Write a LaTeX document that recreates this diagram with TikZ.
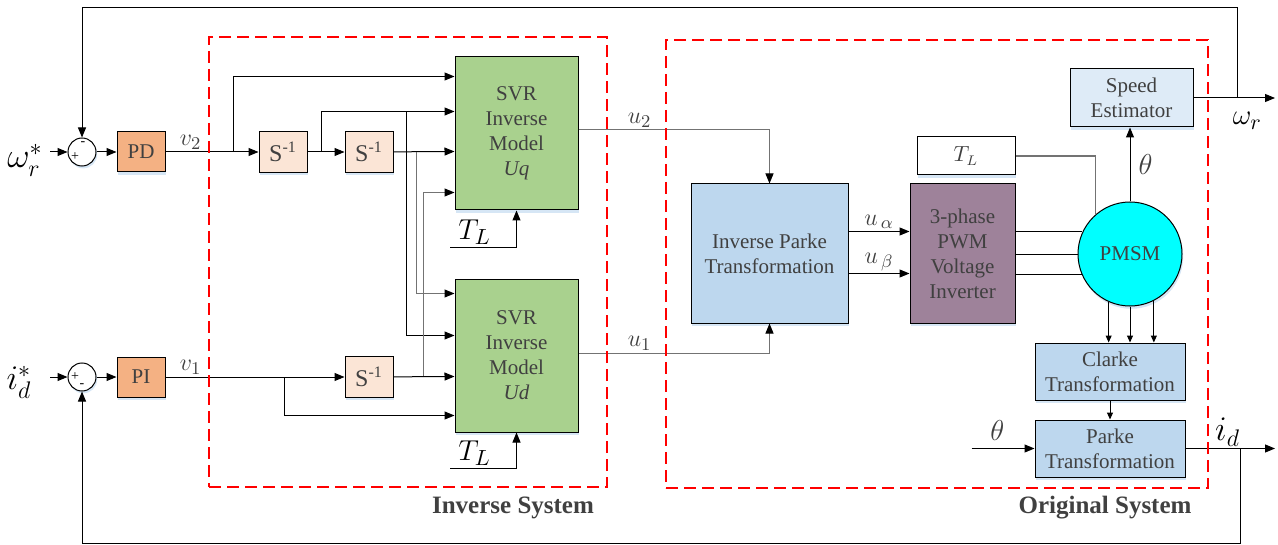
\documentclass[tikz,border=0pt]{standalone}
\usepackage{fontspec}
\setmainfont{Liberation Serif}
\usepackage{tikz}
\usetikzlibrary{arrows.meta,calc,positioning,shadows}
\definecolor{ink}{HTML}{404040}
\definecolor{pdfill}{HTML}{F4B183}
\definecolor{intfill}{HTML}{FBE5D6}
\definecolor{svrfill}{HTML}{A9D18E}
\definecolor{trfill}{HTML}{BDD7EE}
\definecolor{estfill}{HTML}{DEEBF7}
\definecolor{invfill}{HTML}{9E829A}
\definecolor{motorfill}{HTML}{00FFFF}
\definecolor{shade}{HTML}{D6E6F5}
\definecolor{dashred}{HTML}{FF0000}
\tikzset{
  blockbox/.style={draw=black, line width=0.5pt, text=ink, align=center, inner sep=1pt,
    font=\fontsize{10.5}{12.5}\selectfont,
    drop shadow={shadow xshift=0.6pt, shadow yshift=-1.4pt, fill=shade, opacity=1}},
  ctrlbox/.style={blockbox, fill=pdfill, minimum width=24pt, minimum height=20pt},
  intbox/.style={blockbox, fill=intfill, minimum width=24pt, minimum height=20.5pt,
    font=\fontsize{12}{14}\selectfont},
  svrbox/.style={blockbox, fill=svrfill, minimum width=61.5pt, minimum height=76.5pt},
  trbox/.style={blockbox, fill=trfill},
  sumnode/.style={circle, draw=black, line width=0.5pt, fill=white, minimum size=14pt,
    inner sep=0pt, drop shadow={shadow xshift=0.6pt, shadow yshift=-1.2pt, fill=shade, opacity=1}},
  signtext/.style={font=\fontsize{7}{7}\selectfont, inner sep=0pt},
  sig/.style={-{Triangle[length=5pt,width=4pt,black]}, line width=0.5pt},
  sigsmall/.style={-{Triangle[length=3.5pt,width=3pt]}, line width=0.5pt},
  wire/.style={line width=0.5pt},
  graywire/.style={line width=0.6pt, draw=black!55},
  sysbox/.style={draw=dashred, line width=1pt, dash pattern=on 6pt off 3pt,
    inner sep=0pt},
  syslab/.style={font=\bfseries\fontsize{12.5}{14}\selectfont, text=ink},
  vlab/.style={font=\fontsize{13}{15}\selectfont, text=ink, inner sep=1pt},
  biglab/.style={font=\fontsize{17}{19}\selectfont, inner sep=1pt}
}

\begin{document}
\begin{tikzpicture}[x=0.5pt, y=-0.5pt]
  \useasboundingbox (0,0) rectangle (1278,545);
  \node[biglab] (wref) at (25,160) {$\omega_r^*$};
  \node[biglab] (idref) at (19,382) {$i_d^*$};
  \node[sumnode] (sum2) at (82,152) {};
  \node[sumnode] (sum1) at (82,377) {};
  \node[signtext] at ([xshift=-3.5pt,yshift=-2.3pt]sum2.center) {+};
  \node[signtext] at ([xshift=0.5pt,yshift=4pt]sum2.center) {-};
  \node[signtext] at ([xshift=-3.5pt,yshift=0pt]sum1.center) {+};
  \node[signtext] at ([xshift=0pt,yshift=-4.5pt]sum1.center) {-};
  \node[ctrlbox] (pd) at (141,152) {PD};
  \node[ctrlbox] (pi) at (141,377) {PI};
  \node[intbox] (s1) at (283,152) {S\textsuperscript{-1}};
  \node[intbox] (s2) at (369,152) {S\textsuperscript{-1}};
  \node[intbox] (s3) at (369,377) {S\textsuperscript{-1}};
  \node[svrbox] (svrq) at (516.5,133.5) {SVR\\Inverse\\Model\\\textit{Uq}};
  \node[svrbox] (svrd) at (516.5,355.5) {SVR\\Inverse\\Model\\\textit{Ud}};
  \node[trbox, minimum width=78.5pt, minimum height=69.5pt] (ipark) at (769.5,253.5)
    {Inverse Parke\\Transformation};
  \node[blockbox, fill=invfill, minimum width=52.5pt, minimum height=69.5pt] (inv)
    at (962.5,253.5) {3-phase\\PWM\\Voltage\\Inverter};
  \node[blockbox, fill=white, minimum width=49pt, minimum height=19pt] (tlbox)
    at (966,156) {$T_L$};
  \node[blockbox, circle, fill=motorfill, minimum size=52pt] (pmsm) at (1130,254) {PMSM};
  \node[blockbox, fill=estfill, minimum width=61.5pt, minimum height=29pt] (speed)
    at (1131.5,98) {Speed\\Estimator};
  \node[trbox, minimum width=75pt, minimum height=28.5pt] (clarke) at (1110,371.5)
    {Clarke\\Transformation};
  \node[trbox, minimum width=75pt, minimum height=28.5pt] (parke) at (1110,448.5)
    {Parke\\Transformation};

  \coordinate (win) at (50,152);
  \coordinate (iin) at (50,377);
  \coordinate (q1) at ([yshift=-10pt]svrq.north west);
  \coordinate (q2) at ([yshift=-27.5pt]svrq.north west);
  \coordinate (q3) at ([yshift=-47.5pt]svrq.north west);
  \coordinate (q4) at ([yshift=-68pt]svrq.north west);
  \coordinate (d1) at ([yshift=-7.5pt]svrd.north west);
  \coordinate (d2) at ([yshift=-28.5pt]svrd.north west);
  \coordinate (d3) at ([yshift=-49pt]svrd.north west);
  \coordinate (d4) at ([yshift=-68.5pt]svrd.north west);
  \coordinate (b1) at (233,152);
  \coordinate (b2) at (321,152);
  \coordinate (b3) at (406,112);
  \coordinate (b4) at (416,152);
  \coordinate (b5) at (423,377);
  \coordinate (b6) at (284,377);
  \coordinate (tq) at (450,247);
  \coordinate (td) at (450,468);
  \coordinate (thin) at ([xshift=-31.5pt]parke.west);
  \coordinate (wout) at (1275,98);
  \coordinate (idout) at (1275,448.5);
  \coordinate (fb2) at (1237,98);
  \coordinate (fb1) at (1240,448.5);

  \draw[sig] (win) -- (sum2);
  \draw[sig] (iin) -- (sum1);
  \draw[sig] (sum2) -- (pd);
  \draw[sig] (sum1) -- (pi);
  \draw[sig] (pd) -- node[vlab, above, pos=.27]{$v_2$} (s1);
  \draw[sig] (pi) -- node[vlab, above, pos=.14]{$v_1$} (s3);
  \draw[sig] (b1) |- (q1);
  \draw[sig] (s1) -- (s2);
  \draw[sig] (b2) |- (q2);
  \draw[sig] (s2) -- (q3);
  \draw[sig] (b3) |- (d2);
  \draw[sig, draw=black!55] (b4) |- (d1);
  \draw[sig, draw=black!55] (b5) |- (q4);
  \draw[sig] (s3) -- (d3);
  \draw[sig] (b6) |- (d4);
  \draw[sig] (tq) -- node[biglab, above, pos=.37, font=\fontsize{15}{17}\selectfont]{$T_L$}
    (tq -| svrq.south) -- (svrq.south);
  \draw[sig] (td) -- node[biglab, above, pos=.37, font=\fontsize{15}{17}\selectfont]{$T_L$}
    (td -| svrd.south) -- (svrd.south);
  \draw[sig, draw=black!55] ([yshift=1.75pt]svrq.east)
    -- node[vlab, above, pos=.32]{$u_2$} ([yshift=1.75pt]svrq.east -| ipark.north) -- (ipark.north);
  \draw[sig, draw=black!55] ([yshift=1.25pt]svrd.east)
    -- node[vlab, above, pos=.32]{$u_1$} ([yshift=1.25pt]svrd.east -| ipark.south) -- (ipark.south);
  \draw[sig] ([yshift=-24pt]ipark.north east)
    -- node[vlab, above]{$u_{\,\alpha}$} ([yshift=-24pt]inv.north west);
  \draw[sig] ([yshift=-45pt]ipark.north east)
    -- node[vlab, above]{$u_{\,\beta}$} ([yshift=-45pt]inv.north west);
  \foreach \ang in {155,180,203}
    \draw[wire] (pmsm.\ang -| inv.east) -- (pmsm.\ang);
  \draw[graywire] (tlbox.east) -| (pmsm.131);
  \draw[sig] (pmsm.north) -- node[vlab, right=3pt, font=\fontsize{15}{17}\selectfont]{$\theta$} (pmsm.north |- speed.south);
  \foreach \ang in {246,270,297}
    \draw[sigsmall] (pmsm.\ang) -- (pmsm.\ang |- clarke.north);
  \draw[sigsmall] (clarke) -- (parke);
  \draw[sig] (thin) -- node[vlab, above=3pt, pos=.41, font=\fontsize{15}{17}\selectfont]{$\theta$} (parke);
  \draw[sig] (speed) -- node[biglab, below=6pt, pos=.66, font=\fontsize{15}{17}\selectfont]{$\omega_r$} (wout);
  \draw[sig] (parke) -- node[biglab, above, pos=.47]{$i_d$} (idout);
  \draw[sig] (fb2) -- ++(0,-90) -| (sum2.north);
  \draw[sig] (fb1) -- ++(0,95) -| (sum1.south);

  \node[sysbox, minimum width=199pt, minimum height=225pt] (invsys) at (408,262) {};
  \node[sysbox, minimum width=271pt, minimum height=224pt] (origsys) at (937,264) {};
  \node[syslab] (invlab) at (513,508) {Inverse System};
  \node[syslab] (origlab) at (1105,508) {Original System};
\end{tikzpicture}
\end{document}
